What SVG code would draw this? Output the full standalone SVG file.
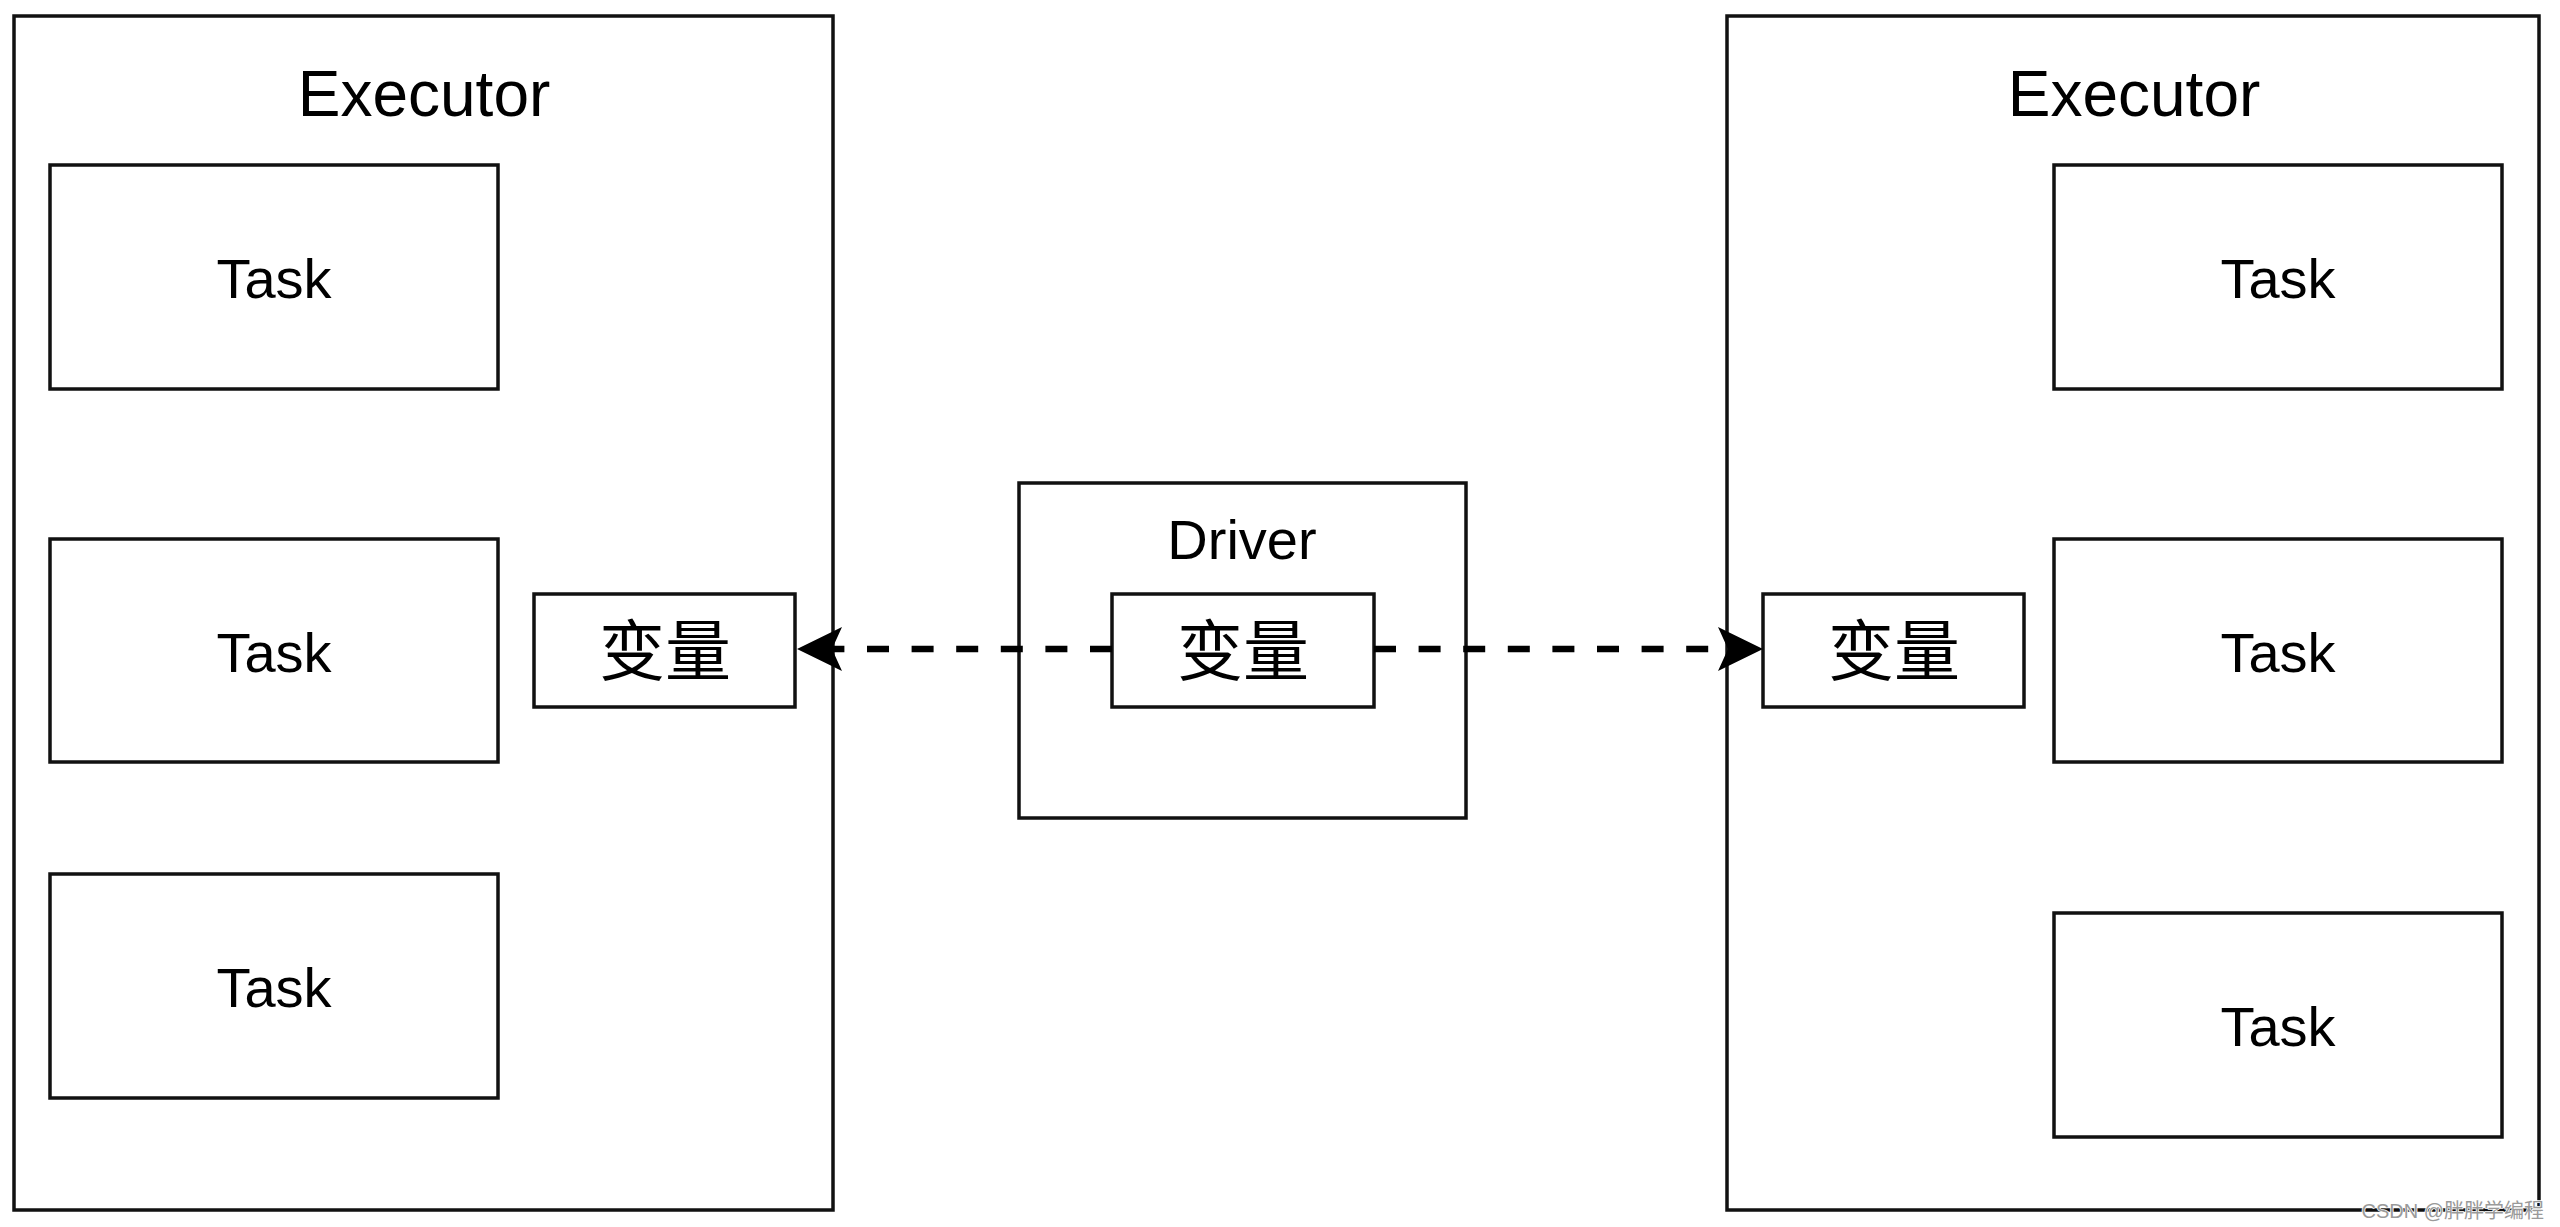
<svg xmlns="http://www.w3.org/2000/svg" width="2560" height="1227" viewBox="0 0 2560 1227">
  <style>
    .box { fill: #ffffff; stroke: #111111; stroke-width: 3.5; }
    .lbl { font-family: "Liberation Sans", Arial, sans-serif; fill: #000000; text-anchor: middle; }
    .big { font-size: 64px; }
    .mid { font-size: 56px; }
    .cjk { font-family: "Liberation Sans", "Noto Sans CJK SC", sans-serif; font-size: 66px; fill: #000000; text-anchor: middle; }
    .edge { fill: none; stroke: #000000; stroke-width: 6.5; stroke-dasharray: 22 22.6; }
    .wm { font-family: "Liberation Sans", "Noto Sans CJK SC", sans-serif; font-size: 20px; fill: #9a9a9a; stroke: #ffffff; stroke-width: 1.5; paint-order: stroke; text-anchor: end; }
  </style>
  <defs>
    <marker id="arrow" markerUnits="userSpaceOnUse" viewBox="-12 -24 50 48" refX="0" refY="0" markerWidth="50" markerHeight="48" orient="auto">
      <path d="M35,0 L-10,-22 L0,0 L-10,22 Z" fill="#000000"/>
    </marker>
  </defs>
  <rect width="2560" height="1227" fill="#ffffff"/>

  <g id="executor-left">
    <rect class="box" x="14" y="16" width="819" height="1194"/>
    <text class="lbl big" x="424" y="116">Executor</text>
  </g>
  <g id="task-l1">
    <rect class="box" x="50" y="165" width="448" height="224"/>
    <text class="lbl mid" x="274" y="298">Task</text>
  </g>
  <g id="task-l2">
    <rect class="box" x="50" y="539" width="448" height="223"/>
    <text class="lbl mid" x="274" y="672">Task</text>
  </g>
  <g id="task-l3">
    <rect class="box" x="50" y="874" width="448" height="224"/>
    <text class="lbl mid" x="274" y="1007">Task</text>
  </g>
  <g id="var-left">
    <rect class="box" x="534" y="594" width="261" height="113"/>
    <text class="cjk" x="665" y="675">变量</text>
  </g>

  <g id="driver">
    <rect class="box" x="1019" y="483" width="447" height="335"/>
    <text class="lbl mid" x="1242" y="559">Driver</text>
  </g>
  <g id="var-driver">
    <rect class="box" x="1112" y="594" width="262" height="113"/>
    <text class="cjk" x="1243" y="675">变量</text>
  </g>

  <g id="executor-right">
    <rect class="box" x="1727" y="16" width="812" height="1194"/>
    <text class="lbl big" x="2134" y="116">Executor</text>
  </g>
  <g id="var-right">
    <rect class="box" x="1763" y="594" width="261" height="113"/>
    <text class="cjk" x="1894" y="675">变量</text>
  </g>
  <g id="task-r1">
    <rect class="box" x="2054" y="165" width="448" height="224"/>
    <text class="lbl mid" x="2278" y="298">Task</text>
  </g>
  <g id="task-r2">
    <rect class="box" x="2054" y="539" width="448" height="223"/>
    <text class="lbl mid" x="2278" y="672">Task</text>
  </g>
  <g id="task-r3">
    <rect class="box" x="2054" y="913" width="448" height="224"/>
    <text class="lbl mid" x="2278" y="1046">Task</text>
  </g>

  <g id="connectors">
    <path class="edge" d="M1112,649 L832,649" marker-end="url(#arrow)"/>
    <path class="edge" d="M1374,649 L1728,649" marker-end="url(#arrow)"/>
  </g>

  <text class="wm" x="2544" y="1218">CSDN @胖胖学编程</text>
</svg>
